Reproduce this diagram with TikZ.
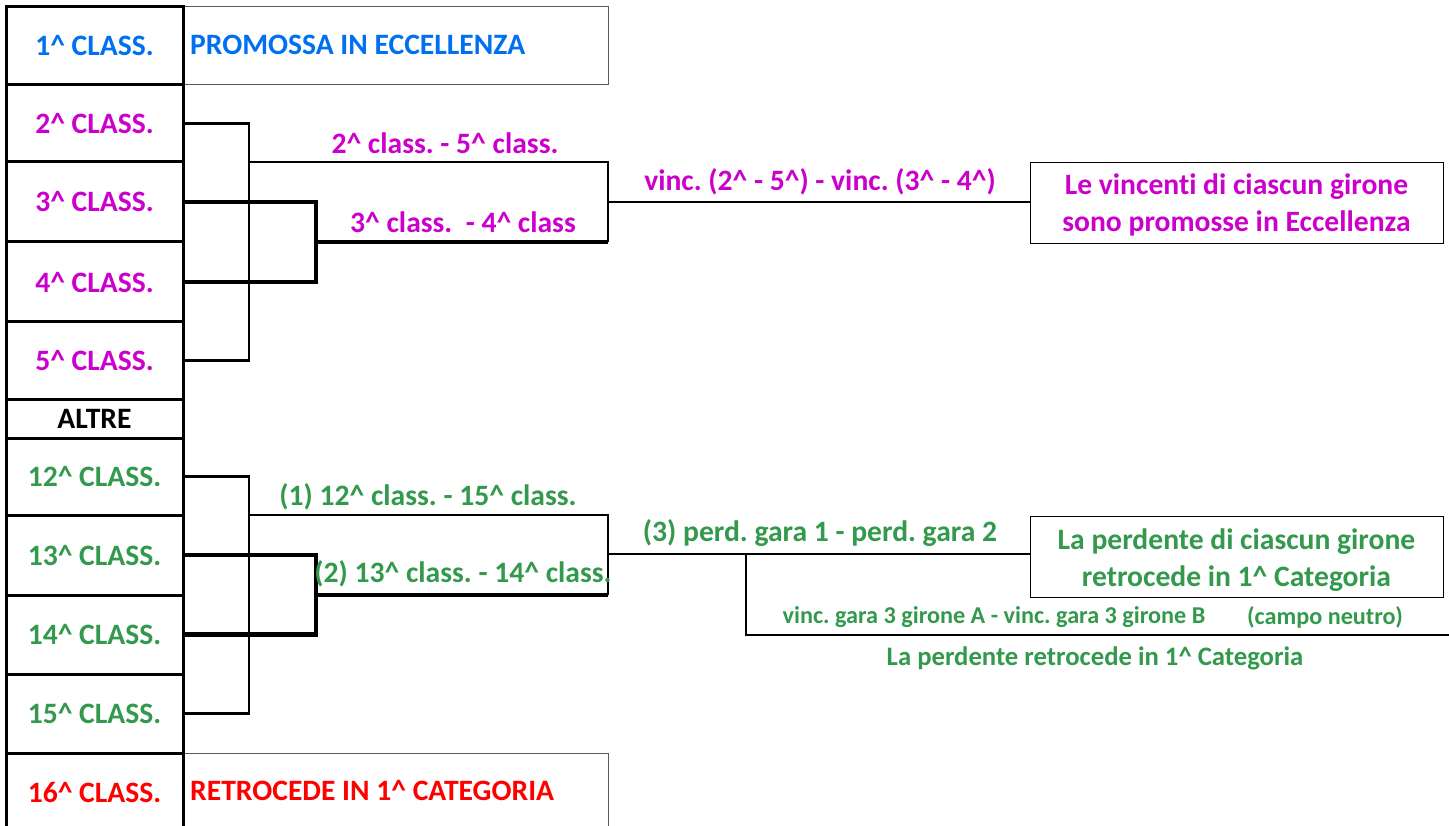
\documentclass[tikz,border=0pt]{standalone}
\usepackage{fontspec}
\setmainfont[Ligatures=NoCommon]{Carlito}
\frenchspacing
\definecolor{cblue}{RGB}{0,112,240}
\definecolor{cmag}{RGB}{204,0,204}
\definecolor{cgreen}{RGB}{51,153,76}
\definecolor{cred}{RGB}{255,0,0}
\definecolor{cgray}{RGB}{90,90,90}
\newcommand{\ca}{\textasciicircum}
\begin{document}
\begin{tikzpicture}[x=1pt,y=-1pt,
  every node/.style={font=\bfseries\fontsize{29.6}{37}\selectfont, inner sep=0pt},
  cell/.style={draw, line width=3pt, minimum width=177pt},
  sidebox/.style={draw=cgray, line width=1pt, minimum width=425pt, anchor=west},
  resbox/.style={draw=black, line width=1pt, minimum width=413pt, minimum height=81pt},
  restext/.style={align=center},
  thinbr/.style={line width=2.5pt},
  thickbr/.style={line width=4.5pt},
  link/.style={line width=2.2pt},
  small/.style={font=\bfseries\fontsize{24.2}{30}\selectfont}]
\clip (0,0) rectangle (1449,826);
\fill[white] (0,0) rectangle (1449,826);
% side boxes
\node[sidebox, minimum height=78pt] (p1) at (183,46) {};
\node[sidebox, minimum height=80pt] (p16) at (183,793) {};
\node[anchor=west, text=cblue] (t1) at (190,45) {PROMOSSA IN ECCELLENZA};
\node[anchor=west, text=cred] (t16) at (190,790) {RETROCEDE IN 1\ca{} CATEGORIA};
% column cells
\node[cell, minimum height=78pt] (c1) at (94.5,46) {\textcolor{cblue}{1\ca{} CLASS.}};
\node[cell, minimum height=77pt] (c2) at (94.5,123.5) {\textcolor{cmag}{2\ca{} CLASS.}};
\node[cell, minimum height=80pt] (c3) at (94.5,202) {\textcolor{cmag}{3\ca{} CLASS.}};
\node[cell, minimum height=80pt] (c4) at (94.5,282) {\textcolor{cmag}{4\ca{} CLASS.}};
\node[cell, minimum height=77pt] (c5) at (94.5,360.5) {\textcolor{cmag}{5\ca{} CLASS.}};
\node[cell, minimum height=39pt] (alt) at (94.5,418.5) {ALTRE};
\node[cell, minimum height=77pt] (c12) at (94.5,476.5) {\textcolor{cgreen}{12\ca{} CLASS.}};
\node[cell, minimum height=80pt] (c13) at (94.5,555) {\textcolor{cgreen}{13\ca{} CLASS.}};
\node[cell, minimum height=79pt] (c14) at (94.5,634.5) {\textcolor{cgreen}{14\ca{} CLASS.}};
\node[cell, minimum height=79pt] (c15) at (94.5,713.5) {\textcolor{cgreen}{15\ca{} CLASS.}};
\node[cell, minimum height=80pt] (c16) at (94.5,793) {\textcolor{cred}{16\ca{} CLASS.}};
% result boxes
\node[resbox] (r1) at (1236.5,203) {};
\node[restext, text=cmag] (r1t) at (1236.5,205) {Le vincenti di ciascun girone\\sono promosse in Eccellenza};
\node[resbox] (r2) at (1236.5,557) {};
\node[restext, text=cgreen] (r2t) at (1236.5,560) {La perdente di ciascun girone\\retrocede in 1\ca{} Categoria};
% top bracket
\coordinate (a1) at (249,162);
\coordinate (a2) at (608,162);
\coordinate (a3) at (608,242);
\coordinate (a4) at (316,242);
\coordinate (a5) at (608,202);
\draw[thinbr] (c2.east) -| (a1) |- (c5.east);
\draw[thinbr] (a1) -- (a2) -- (a3);
\draw[thickbr] (c3.east) -| (a4) |- (c4.east);
\draw[thickbr] (a4) -- (a3);
\draw[link] (a5) -- (a5 -| r1.west);
\node[text=cmag] (l1) at (445,143) {2\ca{} class. - 5\ca{} class.};
\node[text=cmag] (l2) at (463,222) {3\ca{} class.\ \ - 4\ca{} class};
\node[text=cmag] (l3) at (820,182) {vinc. (2\ca{} - 5\ca) - vinc. (3\ca{} - 4\ca)};
% bottom bracket
\coordinate (b1) at (249,515);
\coordinate (b2) at (608,515);
\coordinate (b3) at (608,595);
\coordinate (b4) at (316,595);
\coordinate (b5) at (608,554);
\coordinate (b6) at (746,554);
\coordinate (b7) at (746,635);
\coordinate (b8) at (1449,635);
\draw[thinbr] (c12.east) -| (b1) |- (c15.east);
\draw[thinbr] (b1) -- (b2) -- (b3);
\draw[thickbr] (c13.east) -| (b4) |- (c14.east);
\draw[thickbr] (b4) -- (b3);
\draw[link] (b5) -- (b5 -| r2.west);
\draw[link] (b6) -- (b7) -- (b8);
\node[text=cgreen] (m1) at (428,497) {(1) 12\ca{} class. - 15\ca{} class.};
\node[text=cgreen] (m2) at (463,574) {(2) 13\ca{} class. - 14\ca{} class.};
\node[text=cgreen] (m3) at (820,533) {(3) perd. gara 1 - perd. gara 2};
\node[small, text=cgreen] (m4) at (994,617) {vinc. gara 3 girone A - vinc. gara 3 girone B};
\node[small, text=cgreen] (m5) at (1325,617) {(campo neutro)};
\node[text=cgreen, font=\bfseries\fontsize{26.7}{32}\selectfont] (m6) at (1095,658) {La perdente retrocede in 1\ca{} Categoria};
\end{tikzpicture}
\end{document}
